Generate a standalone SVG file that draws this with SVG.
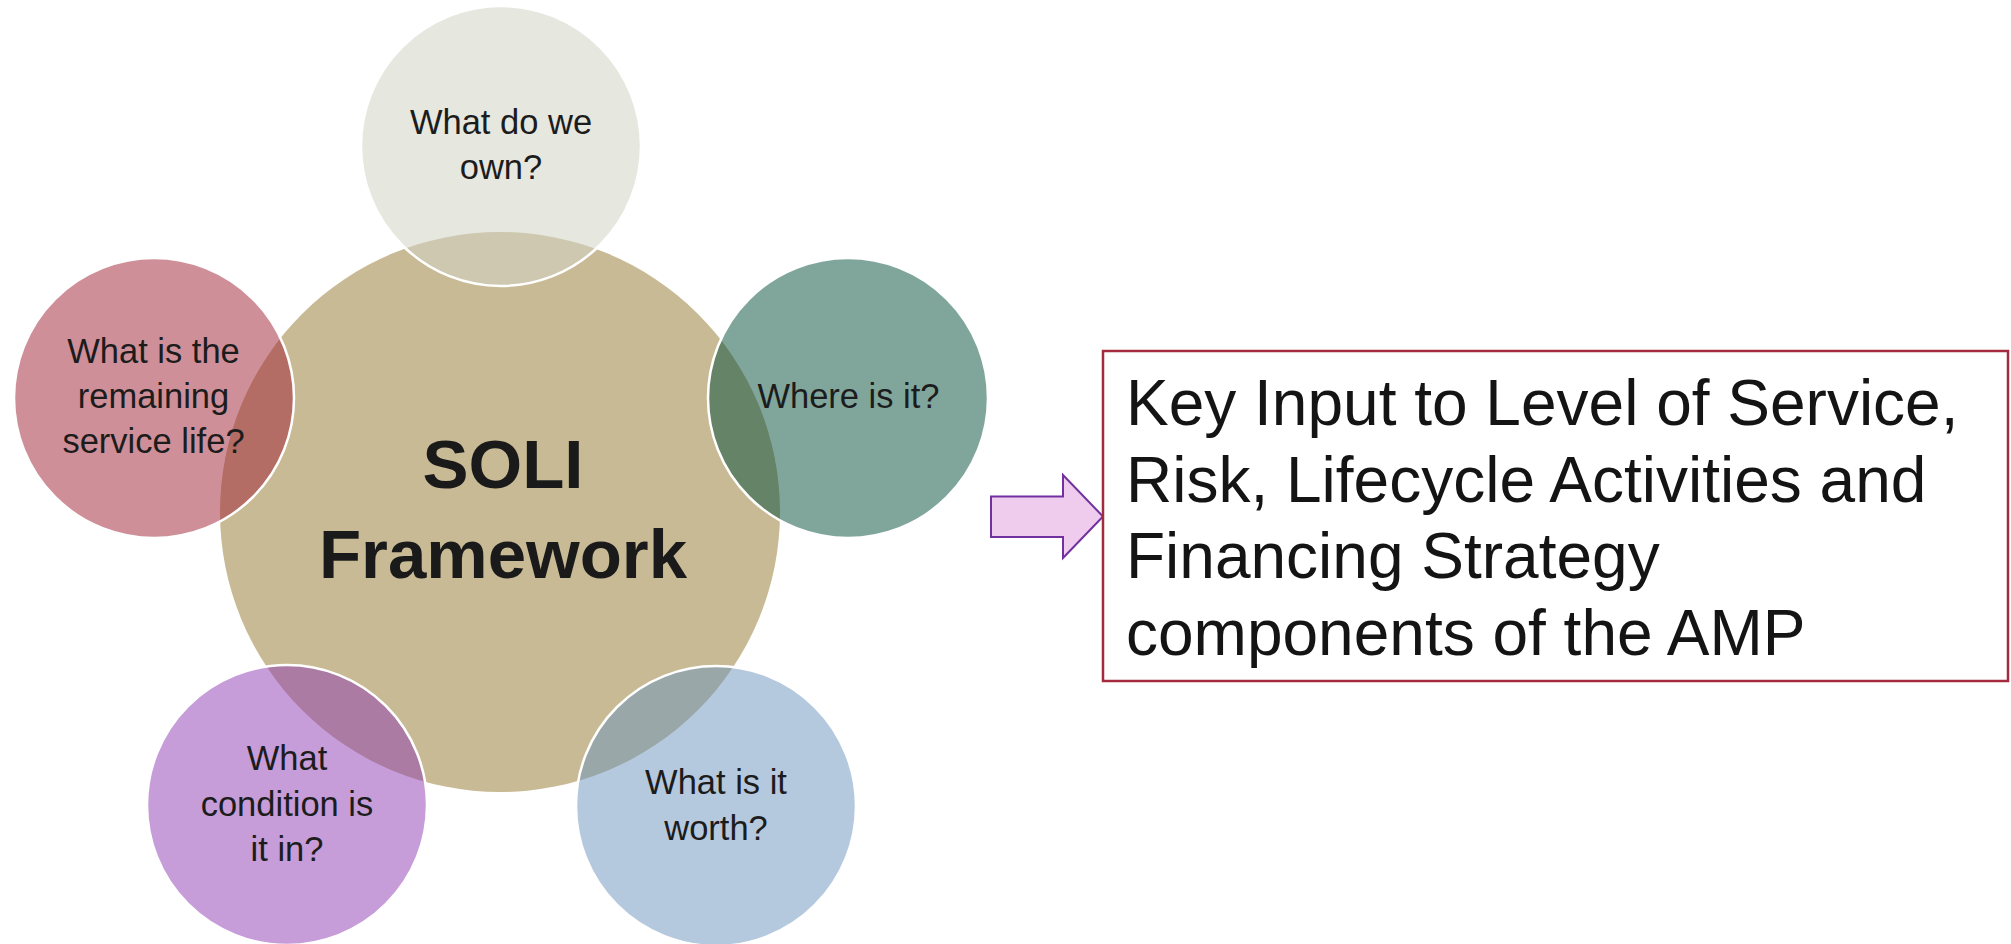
<svg xmlns="http://www.w3.org/2000/svg" width="2011" height="944" viewBox="0 0 2011 944">
  <style>
    .bubble { stroke: #ffffff; stroke-width: 2.5; }
    .q { font-family: "Liberation Sans", Arial, sans-serif; font-size: 34.5px; fill: #1c1c1c; text-anchor: middle; }
    .hub { font-family: "Liberation Sans", Arial, sans-serif; font-size: 69px; font-weight: bold; fill: #1a1a1a; text-anchor: middle; }
    .note { font-family: "Liberation Sans", Arial, sans-serif; font-size: 64px; fill: #141414; }
  </style>
  <rect width="2011" height="944" fill="#ffffff"/>

  <!-- central hub -->
  <g id="hub">
    <circle cx="500" cy="512" r="280" fill="#C8BA94"/>
  </g>

  <!-- surrounding question bubbles (translucent, drawn over the hub) -->
  <g id="q-own">
    <circle class="bubble" cx="501" cy="146" r="140" fill="#D2D3C5" fill-opacity="0.55"/>
    <text class="q" x="501" y="134.3">What do we</text>
    <text class="q" x="501" y="179.3">own?</text>
  </g>
  <g id="q-where">
    <circle class="bubble" cx="848" cy="398" r="140" fill="#014D39" fill-opacity="0.5"/>
    <text class="q" x="848.5" y="408">Where is it?</text>
  </g>
  <g id="q-worth">
    <circle class="bubble" cx="716" cy="806" r="140" fill="#6B93BD" fill-opacity="0.5"/>
    <text class="q" x="716" y="794">What is it</text>
    <text class="q" x="716" y="840">worth?</text>
  </g>
  <g id="q-condition">
    <circle class="bubble" cx="287" cy="805" r="140" fill="#8D3BB3" fill-opacity="0.5"/>
    <text class="q" x="287" y="770">What</text>
    <text class="q" x="287" y="815.5">condition is</text>
    <text class="q" x="287" y="861">it in?</text>
  </g>
  <g id="q-life">
    <circle class="bubble" cx="154" cy="398" r="140" fill="#9F1F33" fill-opacity="0.5"/>
    <text class="q" x="153.5" y="362.5">What is the</text>
    <text class="q" x="153.5" y="407.5">remaining</text>
    <text class="q" x="153.5" y="452.5">service life?</text>
  </g>

  <!-- hub title sits above the bubbles -->
  <g id="hub-label">
    <text class="hub" x="503" y="487.7">SOLI</text>
    <text class="hub" x="503" y="578.3">Framework</text>
  </g>

  <!-- block arrow into the outcome box -->
  <g id="connectors">
    <polygon points="991,496.5 1063,496.5 1063,475 1103,516.5 1063,558 1063,537 991,537" fill="#EFCCEE" stroke="#7030A0" stroke-width="2" stroke-linejoin="miter"/>
  </g>

  <!-- outcome box -->
  <g id="outcome">
    <rect x="1103" y="351" width="905" height="330" fill="#ffffff" stroke="#A52A3E" stroke-width="2.5"/>
    <text class="note" x="1126" y="425">Key Input to Level of Service,</text>
    <text class="note" x="1126" y="501.5">Risk, Lifecycle Activities and</text>
    <text class="note" x="1126" y="578">Financing Strategy</text>
    <text class="note" x="1126" y="654.5">components of the AMP</text>
  </g>
</svg>
